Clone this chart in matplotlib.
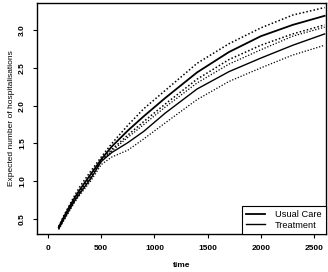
import matplotlib
matplotlib.use("Agg")
import matplotlib.pyplot as plt
from matplotlib.lines import Line2D

plt.rcParams['font.family'] = ['Liberation Sans', 'DejaVu Sans']

# time grid
time = [100, 150, 200, 250, 300, 400, 500, 600, 750, 900, 1100, 1400, 1700, 2000, 2300, 2600]

# usual care: mean and pointwise bounds
uc_upper = [0.40, 0.55, 0.68, 0.81, 0.93, 1.13, 1.32, 1.50, 1.74, 1.96, 2.20, 2.56, 2.82, 3.03, 3.20, 3.30]
uc_mean = [0.39, 0.53, 0.66, 0.78, 0.89, 1.09, 1.29, 1.46, 1.67, 1.86, 2.10, 2.44, 2.71, 2.92, 3.07, 3.19]
uc_lower = [0.38, 0.51, 0.64, 0.76, 0.86, 1.06, 1.27, 1.42, 1.61, 1.79, 2.02, 2.35, 2.61, 2.80, 2.95, 3.07]

# treatment: mean and pointwise bounds
tr_upper = [0.38, 0.51, 0.64, 0.75, 0.85, 1.05, 1.27, 1.40, 1.58, 1.75, 1.98, 2.30, 2.55, 2.74, 2.92, 3.04]
tr_mean = [0.37, 0.50, 0.62, 0.74, 0.84, 1.03, 1.26, 1.38, 1.51, 1.66, 1.90, 2.22, 2.45, 2.63, 2.80, 2.95]
tr_lower = [0.36, 0.48, 0.60, 0.72, 0.82, 1.00, 1.22, 1.32, 1.41, 1.56, 1.77, 2.08, 2.32, 2.50, 2.67, 2.80]

xticks = [0, 500, 1000, 1500, 2000, 2500]
yticks = [0.5, 1.0, 1.5, 2.0, 2.5, 3.0]

fig = plt.figure(figsize=(3.28, 2.72), dpi=100)
ax = fig.add_axes([0.113, 0.140, 0.881, 0.849])

dot = (0, (1, 1.4))
ax.plot(time, uc_mean, color='black', lw=1.3)
ax.plot(time, uc_upper, color='black', lw=1.1, linestyle=dot)
ax.plot(time, uc_lower, color='black', lw=1.1, linestyle=dot)
ax.plot(time, tr_mean, color='black', lw=1.0)
ax.plot(time, tr_upper, color='black', lw=0.9, linestyle=dot)
ax.plot(time, tr_lower, color='black', lw=0.9, linestyle=dot)

ax.set_xlim(-104, 2613)
ax.set_ylim(0.30, 3.36)
ax.set_xticks(xticks)
ax.set_xticklabels([str(t) for t in xticks])
ax.set_yticks(yticks)
ax.set_yticklabels([str(t) for t in yticks], rotation=90, va='center')
ax.tick_params(labelsize=6, length=3, width=0.8, pad=5)
for lab in ax.get_xticklabels() + ax.get_yticklabels():
    lab.set_fontweight('semibold')
for s in ax.spines.values():
    s.set_linewidth(1.0)

ax.set_xlabel("time", fontsize=6, labelpad=7, fontweight='semibold')
ax.set_ylabel("Expected number of hospitalisations", fontsize=6, labelpad=3)

handles = [Line2D([], [], color='black', lw=1.3), Line2D([], [], color='black', lw=1.0)]
leg = ax.legend(handles, ["Usual Care", "Treatment"], loc='lower right',
                borderaxespad=0, fontsize=6.7, fancybox=False, framealpha=1,
                handlelength=2.0, handletextpad=1.1, labelspacing=0.15,
                borderpad=0.45)
leg.get_frame().set_edgecolor('black')
leg.get_frame().set_linewidth(0.8)

fig.savefig("out.png", dpi=100)
